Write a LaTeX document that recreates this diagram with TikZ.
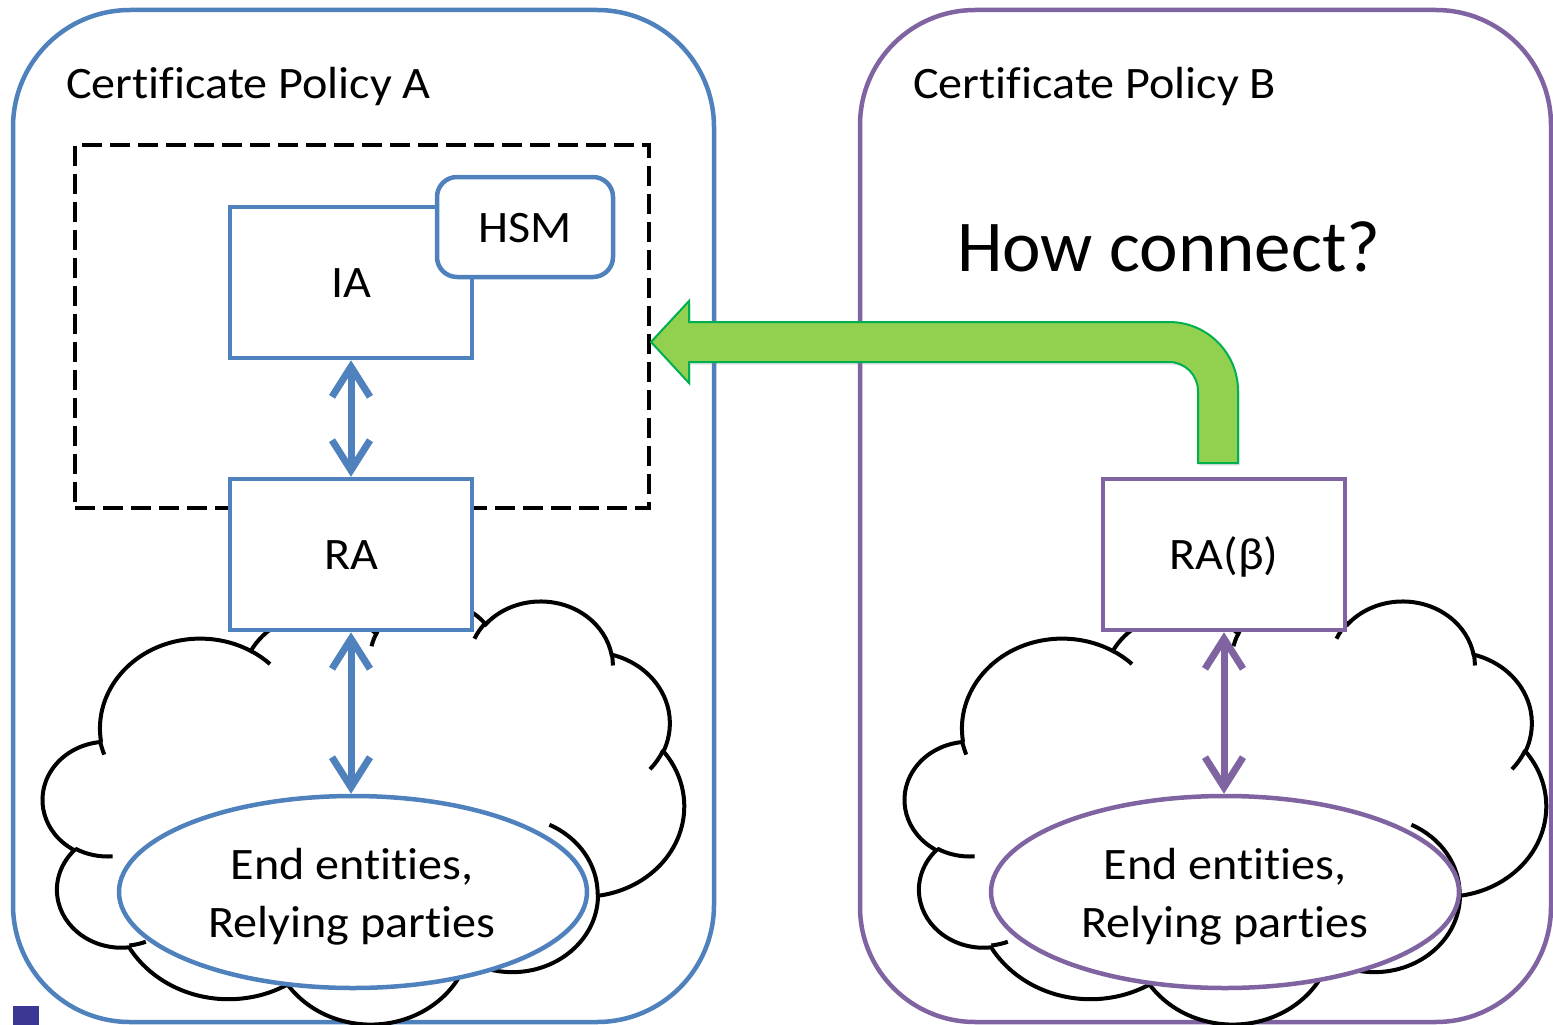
\documentclass[tikz,border=0pt]{standalone}
\usepackage{fontspec}
\setmainfont{Carlito}[FakeStretch=1.07, Ligatures=CommonOff]
\newfontfamily\titlefont{Carlito}[Ligatures=CommonOff]
\usetikzlibrary{arrows.meta,shapes.geometric,shadows}
\definecolor{pblue}{HTML}{4F81BD}
\definecolor{ppurple}{HTML}{8064A2}
\definecolor{gfill}{HTML}{92D050}
\definecolor{gline}{HTML}{00B050}
\definecolor{sqcol}{HTML}{3B3794}
\tikzset{
  carc/.style n args={4}{insert path={arc[x radius=#1, y radius=#2,
      start angle={atan2((#1)*sin(#3),(#2)*cos(#3))},
      delta angle={mod(atan2((#1)*sin((#3)+(#4)),(#2)*cos((#3)+(#4)))-atan2((#1)*sin(#3),(#2)*cos(#3))+720,360)}]}},
  txt/.style={font=\fontsize{45}{58}\selectfont},
  frame/.style={draw, line width=4.5, fill=white, rounded corners=#1, inner sep=0pt},
  bbox/.style={txt, draw=pblue, line width=4.5, fill=white, rectangle, inner sep=0pt,
      minimum width=242, minimum height=151, text height=30pt, text depth=0pt},
  pbox/.style={bbox, draw=ppurple},
  bell/.style={ellipse, draw=pblue, line width=4.5, fill=white, inner sep=0pt,
      minimum width=468, minimum height=192},
  pell/.style={bell, draw=ppurple},
  etxt/.style={txt, align=center, inner sep=0pt},
  barr/.style={draw=pblue, line width=7,
      {Straight Barb[length=30pt,width=38pt]}-{Straight Barb[length=30pt,width=38pt]}},
  parr/.style={barr, draw=ppurple},
  garrow/.style={fill=gfill, draw=gline, line width=2, line join=miter,
      drop shadow={shadow xshift=1.5pt, shadow yshift=-2.5pt, opacity=0.2}},
  cloudline/.style={line width=4, draw=black},
}
\newcommand\cloudat[2]{%
\begin{scope}[shift={(#1,#2)}, xscale=1.4838, yscale=0.9792]
\filldraw[cloudline, fill=white] (39,143.7)
 [carc={67.53}{91.90}{-190.4875}{123.7805}]
 [carc={53.33}{72.67}{-144.1024}{89.9452}]
 [carc={43.65}{59.45}{-145.8079}{99.7230}]
 [carc={48.57}{65.95}{-130.9861}{117.2417}]
 [carc={53.33}{72.73}{-78.7089}{109.0269}]
 [carc={67.75}{92.20}{-46.2673}{130.2690}]
 [carc={57.85}{78.67}{0.6250}{114.0333}]
 [carc={67.52}{92.15}{22.4516}{115.1726}]
 [carc={77.20}{105.43}{66.2426}{75.7110}]
 [carc={43.60}{59.18}{-274.9421}{146.7356}]
 [carc={43.45}{59.45}{-246.8285}{152.5189}] -- cycle;
\draw[cloudline] (46.93,261.77) [carc={43.45}{59.45}{86.742}{26.4295}]
 (69.28,348.99) [carc={43.60}{59.18}{73.6105}{11.4475}]
 (164.78,390.90) [carc={67.52}{92.15}{137.6242}{14.0811}]
 (288.27,347.51) [carc={67.52}{92.15}{6.4533}{15.9984}]
 (341.29,229.54) [carc={57.85}{78.67}{-70.2924}{70.9174}]
 (417.98,153.54) [carc={53.33}{72.73}{30.3180}{19.7830}]
 (383.24,54.26) [carc={48.57}{65.95}{-13.7443}{14.8547}]
 (290.78,39.52) [carc={48.57}{65.95}{-149.1815}{18.1959}]
 (221.41,47.20) [carc={43.65}{59.45}{-163.4943}{17.6895}]
 (140.00,51.92) [carc={67.53}{91.90}{-66.7070}{12.3194}]
 (41.27,157.89) [carc={67.53}{91.90}{153.9333}{11.8501}];
\end{scope}}
\begin{document}
\begin{tikzpicture}[x=1pt,y=-1pt]
\useasboundingbox (0,0) rectangle (1553,1025);
\fill[white] (0,0) rectangle (1553,1025);
% policy frames
\node[frame=117pt, draw=pblue, minimum width=701, minimum height=1012] (polA) at (363.5,516) {};
\node[frame=115pt, draw=ppurple, minimum width=691, minimum height=1012] (polB) at (1205.5,516) {};
\node[txt, anchor=base west, inner sep=0pt] (tA) at (66,99) {Certificate Policy A};
\node[txt, anchor=base west, inner sep=0pt] (tB) at (913,99) {Certificate Policy B};
\node[font=\titlefont\fontsize{73}{80}\selectfont, anchor=base west, inner sep=0pt] (hc) at (957,271) {How connect?};
% CA dashed boundary
\node[draw, line width=4, dash pattern=on 20pt off 8pt, minimum width=574, minimum height=363, inner sep=0pt] (ca) at (362,326.5) {};
% clouds
\cloudat{43}{600}
\cloudat{905}{600}
% boxes
\node[bbox] (RA) at (351,554.5) {RA};
\node[bbox] (IA) at (351,282.5) {IA};
\node[bbox, rounded corners=20pt, minimum width=176, minimum height=100] (HSM) at (525,227) {HSM};
\node[pbox] (RAb) at (1224,554.5) {RA(β)};
\node[bell] (EEa) at (353,892) {};
\node[etxt] (EEaT) at (352,897) {End entities,\\Relying parties};
\node[pell] (EEb) at (1225,892) {};
\node[etxt] (EEbT) at (1225,897) {End entities,\\Relying parties};
% connectors
\draw[barr] (IA.south) -- (RA.north);
\draw[barr] (RA.south) -- (RA.south |- EEa.north);
\draw[parr] (RAb.south) -- (RAb.south |- EEb.north);
% green bent arrow
\coordinate (gtip) at (ca.east |- 0,342);
\coordinate (gend) at (RAb.north |- 0,463);
\filldraw[garrow] (gtip) -- (689,301) -- (689,322) -- (1169,322)
  arc[start angle=-90, end angle=0, radius=69] -- (gend -| 1238,0) -- (gend -| 1198,0) -- (1198,391)
  arc[start angle=0, end angle=-90, radius=29] -- (689,362) -- (689,383) -- cycle;
% slide marker
\fill[sqcol] (13,1006) rectangle (39,1025);
\end{tikzpicture}
\end{document}
